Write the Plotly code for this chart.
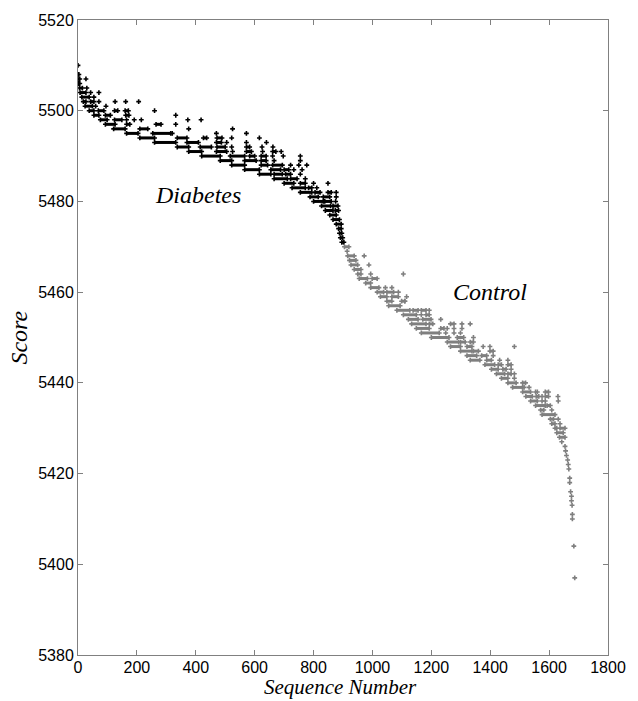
import plotly.graph_objects as go

# ---- data (score level, run start, run end) ----
dia_runs = [
    (5508, 0, 3), (5507, 0, 6), (5506, 2, 6), (5505, 5, 15), (5504, 7, 27),
    (5503, 13, 38), (5502, 18, 27), (5502, 43, 54), (5501, 24, 49),
    (5500, 38, 54), (5500, 69, 88), (5500, 124, 135), (5500, 160, 171),
    (5499, 54, 71), (5499, 93, 110), (5499, 162, 173),
    (5498, 76, 99), (5498, 124, 149),
    (5497, 93, 126), (5497, 165, 176), (5497, 265, 282),
    (5496, 121, 160), (5496, 210, 237),
    (5495, 165, 204), (5495, 254, 315),
    (5494, 210, 260), (5494, 337, 370), (5494, 426, 437), (5494, 472, 489),
    (5493, 260, 332), (5493, 370, 409), (5493, 470, 487),
    (5492, 337, 376), (5492, 415, 453), (5492, 472, 500), (5492, 572, 583),
    (5491, 376, 420), (5491, 470, 505), (5491, 572, 589), (5491, 661, 672),
    (5490, 420, 483), (5490, 517, 566), (5490, 583, 600), (5490, 622, 639),
    (5489, 483, 522), (5489, 566, 605), (5489, 622, 639),
    (5488, 522, 566), (5488, 622, 644), (5488, 661, 694),
    (5487, 566, 616), (5487, 655, 688), (5487, 700, 716),
    (5486, 616, 655), (5486, 666, 694), (5486, 705, 722),
    (5485, 666, 711), (5485, 722, 744),
    (5484, 700, 733), (5484, 755, 772),
    (5483, 727, 772), (5483, 783, 794),
    (5482, 755, 794), (5482, 805, 822), (5482, 849, 860),
    (5481, 788, 816), (5481, 833, 855),
    (5480, 800, 833), (5480, 838, 860),
    (5479, 827, 858), (5479, 866, 883),
    (5478, 840, 866), (5478, 874, 885),
    (5477, 855, 877), (5476, 866, 888), (5475, 877, 894), (5474, 885, 894),
    (5473, 888, 896), (5472, 891, 899), (5471, 896, 903),
]
dia_points = [
    (5510, 0), (5507, 27), (5505, 30), (5504, 43), (5504, 71), (5503, 54),
    (5502, 71), (5502, 126), (5502, 162), (5502, 206),
    (5501, 60), (5501, 95), (5500, 260), (5499, 332),
    (5498, 165), (5498, 191), (5498, 215), (5498, 373), (5498, 418),
    (5497, 332), (5496, 376), (5496, 525),
    (5495, 320), (5495, 470), (5495, 572),
    (5494, 522), (5494, 616), (5493, 505), (5493, 572), (5493, 640),
    (5492, 522), (5492, 625), (5492, 662),
    (5491, 525), (5491, 627), (5491, 690),
    (5490, 661), (5490, 697), (5490, 755), (5489, 666), (5489, 755),
    (5488, 722), (5488, 750), (5488, 777), (5487, 733), (5487, 761),
    (5486, 755), (5485, 772), (5484, 800), (5484, 849), (5483, 811),
    (5482, 877), (5481, 877), (5480, 875),
]

ctl_runs = [
    (5470, 905, 920), (5468, 916, 938), (5467, 922, 944), (5466, 927, 950),
    (5465, 938, 961), (5464, 950, 961), (5463, 955, 983), (5463, 999, 1016),
    (5462, 977, 994), (5461, 994, 1022),
    (5460, 1016, 1038), (5460, 1049, 1072),
    (5459, 1027, 1049), (5459, 1066, 1088),
    (5458, 1049, 1066), (5458, 1099, 1110),
    (5457, 1055, 1094),
    (5456, 1083, 1127), (5456, 1138, 1155), (5456, 1166, 1182),
    (5455, 1105, 1149), (5455, 1182, 1193),
    (5454, 1122, 1155), (5454, 1171, 1199),
    (5453, 1133, 1182), (5453, 1193, 1205), (5453, 1265, 1277),
    (5452, 1149, 1193), (5452, 1232, 1243),
    (5451, 1166, 1227),
    (5450, 1200, 1260), (5450, 1288, 1310),
    (5449, 1254, 1293), (5449, 1299, 1315), (5449, 1332, 1343),
    (5448, 1265, 1299), (5448, 1321, 1338),
    (5447, 1299, 1338), (5447, 1343, 1360), (5447, 1399, 1410),
    (5446, 1321, 1354), (5446, 1371, 1388),
    (5445, 1332, 1365), (5445, 1388, 1404),
    (5444, 1382, 1415), (5444, 1427, 1438), (5444, 1460, 1471),
    (5443, 1404, 1427), (5443, 1443, 1454),
    (5442, 1421, 1449), (5442, 1460, 1471),
    (5441, 1438, 1460),
    (5440, 1460, 1488), (5440, 1510, 1520),
    (5439, 1476, 1510),
    (5438, 1510, 1537), (5438, 1587, 1598),
    (5437, 1521, 1543), (5437, 1556, 1565), (5437, 1587, 1598),
    (5436, 1537, 1560),
    (5435, 1554, 1587), (5435, 1593, 1604),
    (5434, 1571, 1582), (5433, 1576, 1620), (5432, 1604, 1615),
    (5431, 1609, 1620), (5430, 1620, 1626), (5430, 1637, 1654),
    (5429, 1626, 1648), (5428, 1635, 1654),
]
ctl_points = [
    (5469, 914), (5468, 972), (5466, 988), (5464, 994), (5464, 1105),
    (5461, 1044), (5461, 1066), (5460, 1088), (5459, 1116), (5458, 1110),
    (5456, 1193), (5455, 1166), (5454, 1232),
    (5453, 1304), (5453, 1332),
    (5452, 1254), (5452, 1277), (5452, 1304),
    (5451, 1249), (5451, 1277), (5451, 1299),
    (5450, 1343), (5448, 1376), (5448, 1399), (5448, 1482),
    (5446, 1410), (5445, 1432), (5445, 1460), (5443, 1471), (5442, 1482),
    (5441, 1482), (5439, 1515), (5439, 1532), (5438, 1554), (5438, 1560),
    (5437, 1576), (5437, 1630), (5436, 1576), (5436, 1587), (5436, 1631),
    (5434, 1609), (5432, 1631), (5431, 1637),
    (5427, 1643), (5426, 1654), (5425, 1656), (5424, 1659), (5423, 1663),
    (5422, 1665), (5421, 1667), (5419, 1670), (5418, 1670), (5416, 1673),
    (5415, 1676), (5414, 1676), (5413, 1678), (5411, 1679), (5410, 1679),
    (5404, 1684), (5397, 1687),
]

x_ticks = [0, 200, 400, 600, 800, 1000, 1200, 1400, 1600, 1800]
y_ticks = [5380, 5400, 5420, 5440, 5460, 5480, 5500, 5520]

DIA_COLOR = "#000000"
CTL_COLOR = "#7f7f7f"


def run_xy(runs):
    xs, ys = [], []
    for lvl, s, e in runs:
        xs += [s, e, None]
        ys += [lvl, lvl, None]
    return xs, ys


fig = go.Figure()
for runs, pts, col, name in [(dia_runs, dia_points, DIA_COLOR, "Diabetes"),
                             (ctl_runs, ctl_points, CTL_COLOR, "Control")]:
    rx, ry = run_xy(runs)
    fig.add_trace(go.Scatter(
        x=rx, y=ry, mode="lines+markers", name=name, showlegend=False,
        line=dict(color=col, width=3),
        marker=dict(symbol="cross", size=4, color=col, line=dict(width=0)),
        hoverinfo="skip"))
    fig.add_trace(go.Scatter(
        x=[p[1] for p in pts], y=[p[0] for p in pts], mode="markers",
        name=name, showlegend=False,
        marker=dict(symbol="cross", size=4, color=col, line=dict(width=0))))

axis_common = dict(
    showline=True, linecolor="#808080", linewidth=1, mirror="ticks",
    ticks="inside", ticklen=5, tickcolor="#808080", showgrid=False,
    zeroline=False,
    tickfont=dict(family="Liberation Sans, Arial", size=16, color="#000"),
)
fig.update_xaxes(range=[0, 1800], tickvals=x_ticks, ticklabelstandoff=-2,
                 **axis_common)
fig.update_yaxes(range=[5380, 5520], tickvals=y_ticks, **axis_common)

serif = "Liberation Serif, Times New Roman"
fig.update_layout(
    width=638, height=701,
    margin=dict(l=78, r=19, t=15, b=46),
    paper_bgcolor="white", plot_bgcolor="white",
    annotations=[
        dict(text="<i>Sequence Number</i>", xref="paper", yref="paper",
             x=0.495, y=-0.0703, xanchor="center", yanchor="bottom",
             borderpad=0,
             showarrow=False, font=dict(family=serif, size=21, color="#000")),
        dict(text="<i>Score</i>", xref="paper", yref="paper",
             x=-0.113, y=0.5, xanchor="center", yanchor="middle",
             textangle=-90, showarrow=False,
             font=dict(family=serif, size=24, color="#000")),
        dict(text="<i>Diabetes</i>", x=406, y=5481.5, xref="x", yref="y",
             showarrow=False, font=dict(family=serif, size=24, color="#000")),
        dict(text="<i>Control</i>", x=1400, y=5460, xref="x", yref="y",
             showarrow=False, font=dict(family=serif, size=24, color="#000")),
    ],
)

fig.write_html("out.html")
